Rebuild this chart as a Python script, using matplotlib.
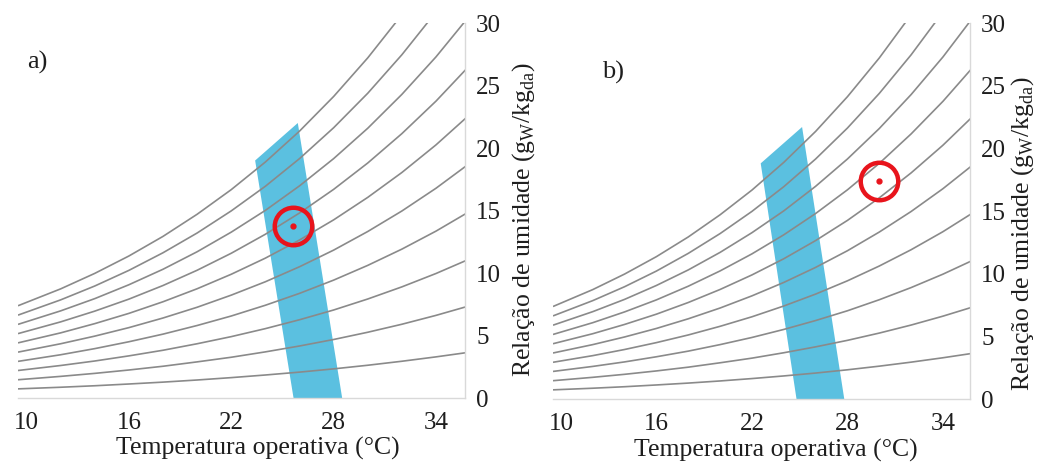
import matplotlib
matplotlib.use("Agg")
import matplotlib.pyplot as plt

plt.rcParams['font.family'] = ['Liberation Serif', 'DejaVu Serif']
plt.rcParams['mathtext.fontset'] = 'custom'
plt.rcParams['mathtext.rm'] = 'Liberation Serif'

# Operative temperature (°C) at which the humidity-ratio curves are tabulated
temperature = [9.5, 12, 14, 16, 18, 20, 22, 24, 26, 28, 30, 32, 34, 36]

# Humidity ratio (g_w/kg_da) of each relative-humidity curve (10 % ... 100 %)
w_rh10 = [0.73, 0.86, 0.98, 1.12, 1.27, 1.44, 1.63, 1.84, 2.07, 2.33, 2.62, 2.94, 3.29, 3.67]
w_rh20 = [1.46, 1.73, 1.97, 2.24, 2.54, 2.89, 3.26, 3.69, 4.16, 4.68, 5.26, 5.90, 6.61, 7.39]
w_rh30 = [2.20, 2.60, 2.96, 3.37, 3.82, 4.34, 4.91, 5.55, 6.26, 7.04, 7.92, 8.89, 9.96, 11.14]
w_rh40 = [2.93, 3.46, 3.95, 4.50, 5.11, 5.80, 6.56, 7.42, 8.37, 9.43, 10.61, 11.91, 13.35, 14.95]
w_rh50 = [3.67, 4.34, 4.95, 5.63, 6.40, 7.26, 8.23, 9.30, 10.50, 11.83, 13.32, 14.96, 16.78, 18.80]
w_rh60 = [4.41, 5.21, 5.95, 6.77, 7.70, 8.74, 9.90, 11.19, 12.64, 14.25, 16.05, 18.04, 20.25, 22.70]
w_rh70 = [5.15, 6.09, 6.95, 7.91, 9.00, 10.22, 11.58, 13.10, 14.80, 16.69, 18.80, 21.15, 23.75, 26.64]
w_rh80 = [5.89, 6.97, 7.95, 9.06, 10.30, 11.70, 13.27, 15.01, 16.97, 19.15, 21.58, 24.29, 27.29, 30.63]
w_rh90 = [6.63, 7.85, 8.96, 10.21, 11.62, 13.20, 14.97, 16.94, 19.15, 21.62, 24.38, 27.46, 30.88, 34.68]
w_rh100 = [7.38, 8.73, 9.97, 11.36, 12.93, 14.70, 16.67, 18.88, 21.35, 24.12, 27.21, 30.66, 34.50, 38.77]
rh_curves = [w_rh10, w_rh20, w_rh30, w_rh40, w_rh50, w_rh60, w_rh70, w_rh80, w_rh90, w_rh100]

x_ticks = [10, 16, 22, 28, 34]
y_ticks = [0, 5, 10, 15, 20, 25, 30]

# Comfort zone polygons (temperature, humidity ratio)
zone_a_t = [23.4, 25.9, 28.5, 25.65]
zone_a_w = [19.0, 22.0, 0.0, 0.0]
zone_b_t = [22.55, 25.15, 27.8, 24.8]
zone_b_w = [18.8, 21.7, 0.0, 0.0]

# Measured conditions
point_a_t, point_a_w = 25.6, 13.8
point_b_t, point_b_w = 30.0, 17.4

panel_labels = ["a)", "b)"]
xlabel = "Temperatura operativa (°C)"
ylabel = r"Relação de umidade (g$_\mathregular{W}$/kg$_\mathregular{da}$)"

W, H = 1037, 465
fig = plt.figure(figsize=(W / 100, H / 100), dpi=100)
ax_a = fig.add_axes([18 / W, 67 / H, 447 / W, 375 / H])
ax_b = fig.add_axes([553 / W, 66 / H, 417 / W, 376 / H])

curve_color = "#8a8a8a"
zone_color = "#5bc0e0"
spine_color = "#d9d9d9"
text_color = "#1e1e1e"

panels = [
    (ax_a, zone_a_t, zone_a_w, point_a_t, point_a_w, panel_labels[0], (27 / W, 0.865), (1.101, 0.475), 0.537),
    (ax_b, zone_b_t, zone_b_w, point_b_t, point_b_w, panel_labels[1], (602 / W, 0.845), (1.093, 0.44), 0.535),
]

for ax, zt, zw, pt, pw, plabel, lpos, ylpos, xlx in panels:
    ax.fill(zt, zw, color=zone_color, lw=0, zorder=1)
    for w in rh_curves:
        ax.plot(temperature, w, color=curve_color, lw=1.2, zorder=2, solid_capstyle="butt")
    ax.plot([pt], [pw], marker="o", ms=27, mfc="none", mec="#e8141c", mew=3.2, zorder=4)
    ax.plot([pt], [pw], marker="o", ms=3.5, mfc="#e8141c", mec="#e8141c", zorder=4)

    ax.set_xlim(9.5, 35.7)
    ax.set_ylim(0, 30)
    ax.set_xticks(x_ticks)
    ax.set_yticks(y_ticks)
    ax.yaxis.tick_right()
    ax.yaxis.set_label_position("right")
    for s in ("left", "top"):
        ax.spines[s].set_visible(False)
    for s in ("right", "bottom"):
        ax.spines[s].set_color(spine_color)
        ax.spines[s].set_linewidth(1.0)
    ax.tick_params(axis="both", length=0, labelsize=18, colors=text_color)
    ax.tick_params(axis="x", pad=10)
    ax.tick_params(axis="y", pad=8)
    ax.set_xlabel(xlabel, fontsize=18.5, color=text_color)
    ax.xaxis.set_label_coords(xlx, -0.105)
    ax.set_ylabel(ylabel, fontsize=18.5, color=text_color)
    ax.yaxis.set_label_coords(ylpos[0], ylpos[1])
    fig.text(lpos[0], lpos[1], plabel, fontsize=19, color=text_color, ha="left", va="center")

fig.savefig("out.png", dpi=100, facecolor="white")
